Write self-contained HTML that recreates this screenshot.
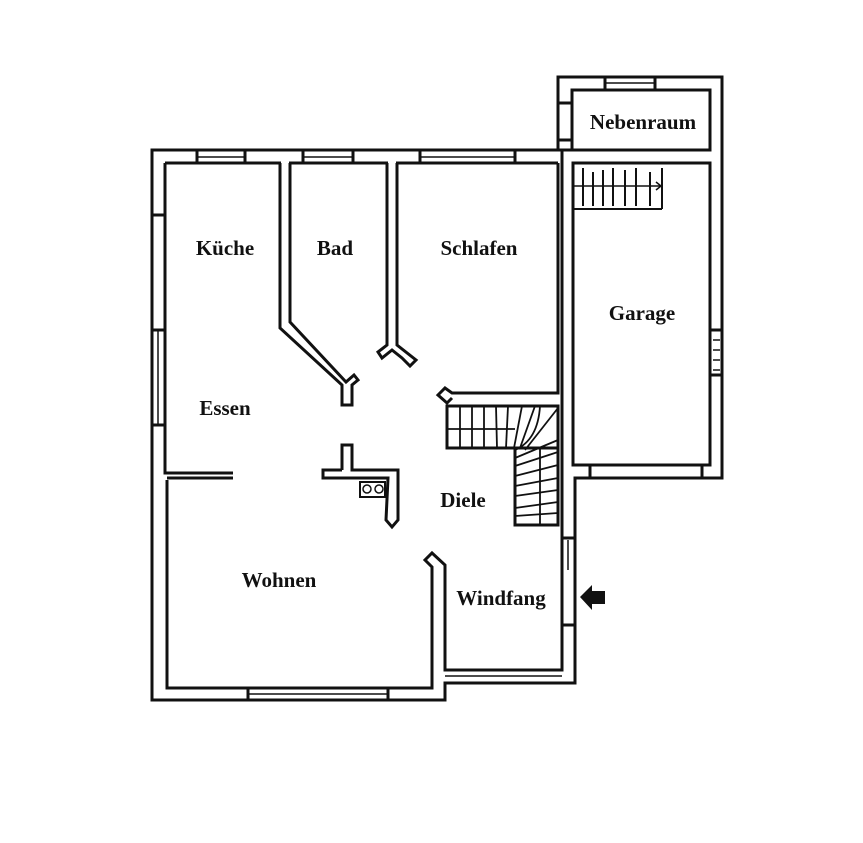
<!DOCTYPE html>
<html><head><style>
html,body{margin:0;padding:0;background:#fff;}
svg{display:block;}
text{font-family:"Liberation Serif",serif;font-weight:bold;font-size:21px;fill:#111;text-anchor:middle;}
</style></head><body>
<svg width="863" height="843" viewBox="0 0 863 843" xmlns="http://www.w3.org/2000/svg">
<g fill="none" stroke="#111" stroke-width="3" stroke-linejoin="miter">
<polyline points="560,150 152,150 152,700 445,700 445,683 575,683 575,478 722,478 722,77 558,77 558,150"/>
<line x1="165" y1="163" x2="281" y2="163"/><line x1="289" y1="163" x2="388" y2="163"/><line x1="396" y1="163" x2="558" y2="163"/>
<polyline points="165,163 165,473 233,473"/>
<polyline points="167,480 167,688 432,688 432,567 425,560 432,553 445,565 445,670 562,670 562,478"/>
<line x1="197" y1="150" x2="197" y2="163"/><line x1="245" y1="150" x2="245" y2="163"/><line x1="197" y1="157" x2="245" y2="157" stroke-width="1.5"/>
<line x1="303" y1="150" x2="303" y2="163"/><line x1="353" y1="150" x2="353" y2="163"/><line x1="303" y1="157" x2="353" y2="157" stroke-width="1.5"/>
<line x1="420" y1="150" x2="420" y2="163"/><line x1="515" y1="150" x2="515" y2="163"/><line x1="420" y1="157" x2="515" y2="157" stroke-width="1.5"/>
<line x1="152" y1="215" x2="165" y2="215"/>
<line x1="152" y1="330" x2="165" y2="330"/><line x1="152" y1="425" x2="165" y2="425"/><line x1="158" y1="330" x2="158" y2="425" stroke-width="1.5"/>
<line x1="248" y1="688" x2="248" y2="700"/><line x1="388" y1="688" x2="388" y2="700"/><line x1="248" y1="694" x2="388" y2="694" stroke-width="1.5"/>
<line x1="445" y1="676" x2="562" y2="676" stroke-width="1.5"/>
<line x1="562" y1="538" x2="575" y2="538"/><line x1="562" y1="625" x2="575" y2="625"/><line x1="568" y1="540" x2="568" y2="570" stroke-width="1.5"/>
<polyline points="280,163 280,328 342,385 342,405 352,405 352,385 358,380 354,375 346,382 290,322 290,163"/>
<polyline points="387,163 387,345 378,352 382,358 392,350 402,358 410,366 416,360 397,345 397,163"/>
<polyline points="558,163 558,393 452,393 445,388 438,395 447,403 452,398"/>
<rect x="447" y="406" width="111" height="42"/>
<polyline points="515,448 515,525 558,525 558,406"/>
<g stroke-width="1.8">
<line x1="447" y1="429" x2="515" y2="429"/>
<line x1="460" y1="406" x2="460" y2="448"/><line x1="472" y1="406" x2="472" y2="448"/><line x1="484" y1="406" x2="484" y2="448"/><line x1="496" y1="406" x2="497" y2="448"/><line x1="508" y1="406" x2="506" y2="448"/>
<line x1="522" y1="406" x2="514" y2="448"/><line x1="535" y1="406" x2="520" y2="448"/><line x1="558" y1="408" x2="525" y2="450"/><line x1="558" y1="440" x2="515" y2="458"/>
<line x1="558" y1="452" x2="515" y2="466"/><line x1="558" y1="465" x2="515" y2="476"/><line x1="558" y1="478" x2="515" y2="486"/><line x1="558" y1="490" x2="515" y2="496"/><line x1="558" y1="502" x2="515" y2="508"/><line x1="558" y1="513" x2="515" y2="516"/>
<path d="M515,450 Q538,440 540,406"/><line x1="540" y1="448" x2="540" y2="525"/>
</g>
<line x1="572" y1="150" x2="558" y2="150"/>
<line x1="562" y1="150" x2="562" y2="478"/>
<rect x="572" y="90" width="138" height="60"/>
<line x1="605" y1="77" x2="605" y2="90"/><line x1="655" y1="77" x2="655" y2="90"/><line x1="605" y1="83" x2="655" y2="83" stroke-width="1.5"/>
<line x1="558" y1="103" x2="572" y2="103"/><line x1="558" y1="140" x2="572" y2="140"/>
<rect x="573" y="163" width="137" height="302"/>
<line x1="710" y1="330" x2="722" y2="330"/><line x1="710" y1="375" x2="722" y2="375"/>
<g stroke-width="1.5"><line x1="713" y1="340" x2="720" y2="340"/><line x1="713" y1="350" x2="720" y2="350"/><line x1="713" y1="360" x2="720" y2="360"/><line x1="713" y1="370" x2="720" y2="370"/></g>
<line x1="590" y1="465" x2="590" y2="478"/><line x1="702" y1="465" x2="702" y2="478"/>
<g stroke-width="2"><line x1="573" y1="209" x2="662" y2="209"/><line x1="573" y1="186" x2="660" y2="186" stroke-width="1.5"/>
<line x1="583" y1="168" x2="583" y2="206"/><line x1="593" y1="172" x2="593" y2="206"/><line x1="603" y1="170" x2="603" y2="206"/><line x1="613" y1="168" x2="613" y2="206"/><line x1="625" y1="170" x2="625" y2="206"/><line x1="636" y1="168" x2="636" y2="206"/><line x1="650" y1="172" x2="650" y2="206"/><line x1="662" y1="168" x2="662" y2="209"/>
<polyline points="656,182 661,186 656,190" stroke-width="1.5"/></g>
<line x1="167" y1="478" x2="233" y2="478"/>
<polyline points="342,470 342,445 352,445 352,470 398,470 398,520 392,527 386,520 388,478 323,478 323,470 342,470"/>
<rect x="360" y="482" width="25" height="15" stroke-width="2"/>
<circle cx="367" cy="489" r="4" stroke-width="1.5"/><circle cx="379" cy="489" r="4" stroke-width="1.5"/>
</g>
<polygon points="580,597 592,585 592,591 605,591 605,604 592,604 592,610" fill="#111"/>
<text x="225" y="255">Küche</text>
<text x="335" y="255">Bad</text>
<text x="479" y="255">Schlafen</text>
<text x="643" y="129">Nebenraum</text>
<text x="642" y="320">Garage</text>
<text x="225" y="415">Essen</text>
<text x="279" y="587">Wohnen</text>
<text x="463" y="507">Diele</text>
<text x="501" y="605">Windfang</text>
</svg>
</body></html>
